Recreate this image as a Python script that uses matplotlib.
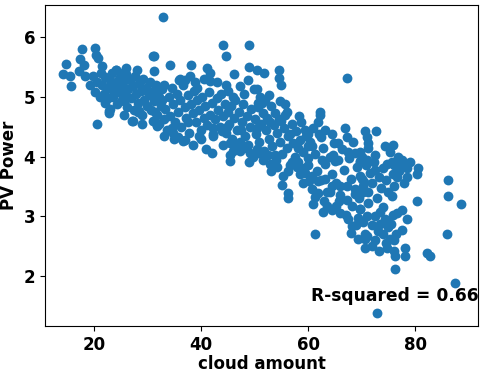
import matplotlib
matplotlib.use("Agg")
import matplotlib.pyplot as plt
import numpy as np

# (cloud amount, PV power) pairs, grouped by region
left_pts = [
    (14.2, 5.37), (14.8, 5.55), (15.5, 5.34), (15.7, 5.17), (17.3, 5.62), (17.7, 5.80),
    (17.1, 5.42), (18.0, 5.52), (18.2, 5.34), (19.3, 5.19), (20.1, 5.81), (20.3, 5.70),
    (20.7, 5.65), (20.6, 4.55), (20.2, 5.08), (21.3, 5.40), (21.5, 5.51), (22.7, 4.73),
    (24.1, 5.45), (25.0, 5.40), (25.5, 4.92), (22.7, 4.76), (28.3, 4.76), (27.3, 4.59),
    (28.2, 4.74), (30.9, 5.67), (31.7, 4.51), (19.8, 5.35), (20.5, 5.25), (21.0, 5.00),
]
upper_pts = [
    (32.8, 6.33), (31.1, 5.67), (34.1, 5.52), (38.1, 5.53), (44.1, 5.86), (48.9, 5.86),
    (44.7, 5.67), (48.9, 5.49), (41.1, 5.48), (41.6, 5.40), (46.2, 5.38), (50.4, 5.44),
    (31.2, 5.42), (41.7, 5.26), (44.7, 5.20), (47.3, 5.17), (48.8, 5.28), (49.8, 5.12),
    (35.8, 5.28), (37.0, 5.27), (38.9, 5.25), (39.2, 5.15), (51.8, 5.40), (54.6, 5.44),
    (54.6, 5.31), (54.9, 5.20), (67.2, 5.31), (50.4, 5.12), (52.6, 5.02), (54.8, 4.92),
    (55.7, 4.87), (62.2, 4.75), (51.4, 4.90), (50.7, 4.82), (53.8, 4.73), (56.1, 4.75),
]
mid_pts = [
    (31.7, 4.53), (34.5, 4.48), (34.8, 4.40), (36.6, 4.26), (35.7, 4.33), (37.6, 4.57),
    (39.6, 4.34), (40.9, 4.12), (42.0, 4.06), (42.2, 4.37), (42.2, 4.48), (43.9, 4.42),
    (44.9, 4.50), (45.4, 4.23), (45.4, 4.03), (45.4, 3.92), (46.9, 4.17), (47.3, 4.25),
    (49.2, 4.06), (48.4, 4.15), (50.4, 4.12),
    (58.2, 4.67), (62.2, 4.70), (61.9, 4.58), (60.9, 4.48), (63.2, 4.45), (64.5, 4.37),
    (66.9, 4.48), (67.3, 4.32), (65.6, 4.23), (68.8, 4.06), (69.7, 3.90), (67.5, 4.08),
    (64.7, 4.03), (65.0, 3.92), (62.6, 3.95), (60.0, 3.98), (56.9, 3.90), (56.3, 3.76),
    (55.3, 3.67), (54.2, 3.83), (52.9, 3.87), (50.7, 4.06), (52.5, 4.03), (57.9, 3.82),
    (59.4, 3.73), (60.7, 3.67), (61.9, 3.59), (60.1, 3.59), (63.2, 3.62), (64.4, 3.50),
    (66.0, 3.50), (64.1, 3.40), (65.8, 3.25), (67.3, 3.28), (68.2, 3.17), (68.8, 3.37),
    (70.0, 3.62), (69.7, 3.12), (63.5, 3.17), (65.3, 3.17), (61.9, 3.39), (61.3, 3.32),
    (62.8, 3.07), (55.1, 3.53), (56.3, 3.39), (56.3, 3.31), (53.8, 4.03), (58.1, 4.15),
    (60.7, 4.18), (62.4, 4.32), (60.0, 4.37), (56.6, 4.37),
]
right_pts = [
    (61.2, 2.71), (68.2, 2.84), (68.0, 2.73), (69.3, 2.62), (67.0, 3.03), (69.3, 2.98),
    (70.7, 2.70), (70.7, 2.48),
    (70.7, 4.42), (72.7, 4.43), (71.0, 4.32), (71.2, 4.23), (71.2, 4.15), (69.7, 4.08),
    (72.5, 4.03), (71.0, 3.95), (69.7, 3.92), (74.4, 4.18), (75.9, 4.20), (75.3, 4.07),
    (75.7, 3.90), (76.8, 4.00), (77.6, 3.87), (78.4, 3.81), (74.8, 3.87), (75.9, 3.70),
    (76.6, 3.65), (78.4, 3.65), (80.6, 3.81), (80.4, 3.70), (72.5, 3.78), (69.7, 3.67),
    (70.3, 3.50), (70.3, 3.40), (71.2, 3.23), (75.6, 3.34), (80.4, 3.25), (86.2, 3.60),
    (86.2, 3.34), (88.6, 3.21), (69.7, 3.12), (72.5, 3.00), (73.5, 3.08), (76.6, 3.05),
    (74.4, 2.95),
    (74.7, 2.92), (75.9, 3.03), (77.5, 2.78), (71.0, 2.67), (72.0, 2.50), (73.2, 2.42),
    (74.7, 2.48), (76.0, 2.42), (76.3, 2.34), (78.1, 2.48), (78.1, 2.34), (82.2, 2.39),
    (82.8, 2.34), (76.3, 2.13), (86.0, 2.71), (87.5, 1.89), (72.8, 1.39), (73.5, 2.87),
    (74.0, 2.70), (75.3, 2.62), (70.7, 2.62), (75.0, 2.82), (70.3, 2.90),
]
dense_a = [
    (21.5, 5.20), (21.8, 5.05), (22.1, 5.32), (22.4, 5.15), (22.6, 4.98), (22.9, 5.28),
    (23.1, 5.12), (23.4, 5.40), (23.6, 5.00), (23.9, 5.22), (24.2, 4.88), (24.4, 5.08),
    (24.7, 5.30), (24.9, 5.15), (25.2, 4.95), (25.4, 5.25), (25.7, 5.05), (25.9, 5.38),
    (26.2, 4.82), (26.4, 5.12), (26.7, 5.28), (26.9, 4.98), (27.2, 5.18), (27.4, 4.78),
    (27.7, 5.35), (27.9, 5.05), (28.2, 4.90), (28.4, 5.22), (28.7, 5.10), (28.9, 4.70),
    (29.2, 5.30), (29.4, 4.95), (29.7, 5.15), (29.9, 4.85), (30.2, 5.02), (30.4, 5.25),
    (30.7, 4.78), (30.9, 5.10), (31.2, 4.92), (31.5, 5.20), (31.8, 4.70), (32.1, 5.00),
    (32.4, 4.85), (32.7, 5.12), (33.0, 4.62), (23.0, 4.80), (24.0, 5.45), (25.5, 4.70),
    (26.0, 5.48), (27.0, 4.60), (28.0, 5.45), (29.0, 4.55), (22.0, 4.90),
]
dense_b = [
    (31.0, 4.60), (31.4, 4.75), (31.8, 5.05), (32.2, 4.55), (32.6, 4.95), (33.0, 5.20),
    (33.3, 4.80), (33.6, 4.45), (33.9, 5.00), (34.2, 4.68), (34.5, 5.15), (34.8, 4.88),
    (35.1, 4.58), (35.4, 5.05), (35.7, 4.75), (36.0, 4.95), (36.3, 4.50), (36.6, 5.20),
    (36.9, 4.82), (37.2, 4.65), (37.5, 5.02), (37.8, 4.40), (38.1, 4.88), (38.4, 4.72),
    (38.7, 5.10), (39.0, 4.58), (39.3, 4.95), (39.6, 4.78), (39.9, 4.45), (40.2, 5.00),
    (40.5, 4.65), (40.8, 4.85), (41.1, 4.52), (41.4, 5.08), (41.7, 4.70), (42.0, 4.90),
    (42.3, 4.35), (42.6, 4.62), (42.9, 4.98), (43.2, 4.78), (43.5, 4.50), (43.8, 5.05),
    (44.1, 4.68), (44.4, 4.88), (44.7, 4.40), (45.0, 4.75), (33.0, 4.35), (35.0, 4.30),
    (37.0, 4.28), (38.5, 4.20), (40.0, 4.30), (36.0, 5.30), (38.0, 5.35), (40.5, 5.30),
    (43.0, 5.25), (45.0, 5.10),
]
dense_c = [
    (45.2, 4.55), (45.5, 4.85), (45.8, 4.30), (46.1, 4.65), (46.4, 4.95), (46.7, 4.45),
    (47.0, 4.75), (47.3, 4.10), (47.6, 4.58), (47.9, 4.88), (48.2, 4.35), (48.5, 4.68),
    (48.8, 4.20), (49.1, 4.50), (49.4, 4.80), (49.7, 4.00), (50.0, 4.62), (50.3, 4.38),
    (50.6, 4.90), (50.9, 4.25), (51.2, 4.55), (51.5, 4.72), (51.8, 4.10), (52.1, 4.45),
    (52.4, 4.65), (52.7, 4.30), (53.0, 4.85), (53.3, 4.18), (53.6, 4.52), (53.9, 3.95),
    (54.2, 4.40), (54.5, 4.62), (54.8, 4.25), (55.1, 4.05), (55.4, 4.48), (55.7, 4.70),
    (56.0, 4.15), (56.3, 4.35), (56.6, 3.85), (56.9, 4.55), (57.2, 4.22), (57.5, 4.00),
    (57.8, 4.42), (58.1, 3.90), (58.4, 4.28), (58.7, 4.58), (59.0, 4.08), (59.3, 3.80),
    (59.6, 4.35), (59.9, 4.18), (46.0, 5.00), (48.0, 5.05), (51.0, 5.00), (52.0, 4.95),
    (49.0, 3.90), (51.5, 3.95), (53.0, 3.75), (47.5, 4.45), (50.5, 4.48), (52.8, 4.58),
    (55.0, 4.60), (44.0, 4.20), (46.0, 4.10),
]
dense_d = [
    (58.5, 3.70), (59.0, 3.55), (59.5, 4.45), (60.0, 3.85), (60.4, 4.25), (60.8, 3.45),
    (61.2, 4.05), (61.6, 3.75), (62.0, 4.38), (62.4, 3.60), (62.8, 4.15), (63.2, 3.88),
    (63.6, 3.40), (64.0, 4.00), (64.4, 3.70), (64.8, 4.22), (65.2, 3.55), (65.6, 3.95),
    (66.0, 3.35), (66.4, 4.12), (66.8, 3.78), (67.2, 3.50), (67.6, 3.98), (68.0, 3.62),
    (68.4, 4.25), (68.8, 3.45), (69.2, 3.82), (69.6, 3.30), (70.0, 4.00), (70.4, 3.58),
    (70.8, 3.85), (71.2, 3.40), (71.6, 3.72), (72.0, 3.55), (72.4, 3.90), (72.8, 3.30),
    (73.2, 3.65), (73.6, 3.48), (74.0, 3.80), (74.5, 3.60), (75.0, 3.40), (76.0, 3.50),
    (77.0, 3.75), (78.0, 3.55), (79.0, 3.90), (77.5, 3.95), (76.0, 3.85),
]
dense_e = [
    (61.0, 3.20), (63.0, 3.25), (64.5, 3.10), (66.0, 3.05), (67.5, 2.95), (69.0, 2.85),
    (71.0, 3.00), (72.0, 2.85), (73.0, 2.75), (74.0, 3.15), (75.5, 2.88), (76.5, 2.70),
    (77.5, 3.10), (78.5, 2.95), (72.5, 2.60), (74.5, 2.55), (76.0, 2.60),
]

all_pts = left_pts + upper_pts + mid_pts + right_pts + dense_a + dense_b + dense_c + dense_d + dense_e
cloud_amount = [p[0] for p in all_pts]
pv_power = [p[1] for p in all_pts]

r_squared_label = "R-squared = 0.66"
x_ticks = [20, 40, 60, 80]
y_ticks = [2, 3, 4, 5, 6]

fig = plt.figure(figsize=(4.84, 3.74), dpi=100)
ax = fig.add_axes([0.093, 0.128, 0.895, 0.859])
ax.scatter(cloud_amount, pv_power, s=50, color="#1f77b4", linewidths=0)
ax.set_xlim(10.8, 91.8)
ax.set_ylim(1.17, 6.53)
ax.set_xticks(x_ticks)
ax.set_yticks(y_ticks)
for lab in ax.get_xticklabels() + ax.get_yticklabels():
    lab.set_fontweight("bold")
    lab.set_fontsize(12)
ax.set_xlabel("cloud amount", fontsize=12, fontweight="bold", labelpad=1)
ax.set_ylabel("PV Power", fontsize=12, fontweight="bold", labelpad=4)
ax.text(60.6, 1.68, r_squared_label, fontsize=12.3, fontweight="bold", ha="left", va="center")
fig.savefig("out.png", dpi=100)
